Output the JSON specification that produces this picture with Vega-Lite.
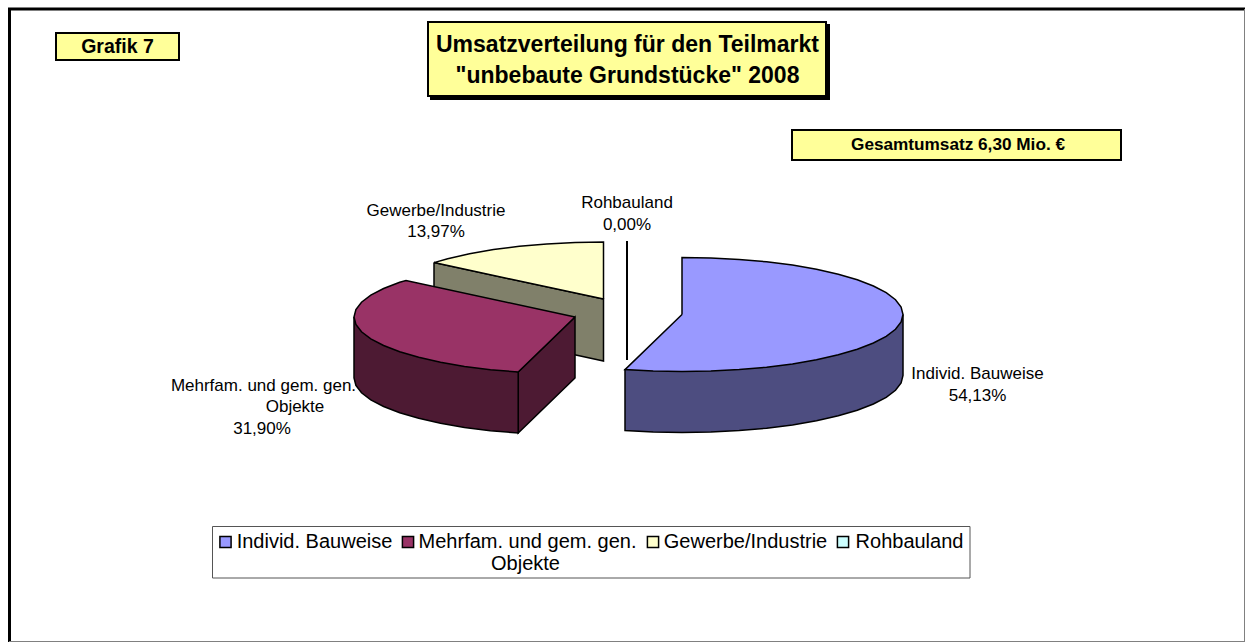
{"$schema":"https://vega.github.io/schema/vega-lite/v6.json","width":1245,"height":642,"padding":0,"autosize":"none","background":"white","config":{"view":{"stroke":null},"font":"Liberation Sans"},
"datasets":{
"boxes":[
{"name":"titleshadow","x":431,"x2":829,"y":25,"y2":99,"fillname":"Schatten"},
{"name":"title","x":428,"x2":826,"y":22,"y2":96,"fillname":"Box"},
{"name":"grafik","x":56,"x2":179,"y":33,"y2":60,"fillname":"Box"},
{"name":"gesamt","x":792,"x2":1121,"y":130,"y2":160,"fillname":"Box"},
{"name":"legend","x":212.5,"x2":970,"y":526.5,"y2":578,"fillname":"Weiss"}
],
"frame":[
{"side":"links","x":9.5,"x2":9.5,"y":8,"y2":642},
{"side":"oben","x":8,"x2":1245,"y":9,"y2":9}
],
"frame2":[
{"side":"unten","x":9,"x2":1245,"y":641.5,"y2":641.5},
{"side":"rechts","x":1244.5,"x2":1244.5,"y":9,"y2":642}
],
"zero":[{"name":"Rohbauland","x":627,"x2":627,"y":241,"y2":360}],
"shapes":[
{"part":"Gewerbe Seite","seq":1,"x":434,"y":262.6},{"part":"Gewerbe Seite","seq":2,"x":603.5,"y":299},{"part":"Gewerbe Seite","seq":3,"x":603.5,"y":361},{"part":"Gewerbe Seite","seq":4,"x":434,"y":324},{"part":"Gewerbe Seite","seq":5,"x":434,"y":262.6},
{"part":"Gewerbe/Industrie","seq":1,"x":603.5,"y":299},{"part":"Gewerbe/Industrie","seq":2,"x":434,"y":262.6},{"part":"Gewerbe/Industrie","seq":3,"x":447.7,"y":258.7},{"part":"Gewerbe/Industrie","seq":4,"x":469.5,"y":253.8},{"part":"Gewerbe/Industrie","seq":5,"x":493.5,"y":249.6},{"part":"Gewerbe/Industrie","seq":6,"x":519.4,"y":246.3},{"part":"Gewerbe/Industrie","seq":7,"x":546.8,"y":243.9},{"part":"Gewerbe/Industrie","seq":8,"x":575.2,"y":242.5},{"part":"Gewerbe/Industrie","seq":9,"x":603.5,"y":242},{"part":"Gewerbe/Industrie","seq":10,"x":603.5,"y":299},
{"part":"Mehrfam Innen","seq":1,"x":518.2,"y":372},{"part":"Mehrfam Innen","seq":2,"x":575,"y":317},{"part":"Mehrfam Innen","seq":3,"x":575,"y":378},{"part":"Mehrfam Innen","seq":4,"x":518.2,"y":433},{"part":"Mehrfam Innen","seq":5,"x":518.2,"y":372},
{"part":"Mehrfam Seite","seq":1,"x":354,"y":317},{"part":"Mehrfam Seite","seq":2,"x":354,"y":378},{"part":"Mehrfam Seite","seq":3,"x":355.9,"y":385.4},{"part":"Mehrfam Seite","seq":4,"x":361.5,"y":392.8},{"part":"Mehrfam Seite","seq":5,"x":370.8,"y":399.8},{"part":"Mehrfam Seite","seq":6,"x":383.6,"y":406.5},{"part":"Mehrfam Seite","seq":7,"x":399.7,"y":412.7},{"part":"Mehrfam Seite","seq":8,"x":418.7,"y":418.3},{"part":"Mehrfam Seite","seq":9,"x":440.5,"y":423.2},{"part":"Mehrfam Seite","seq":10,"x":464.5,"y":427.4},{"part":"Mehrfam Seite","seq":11,"x":490.4,"y":430.7},{"part":"Mehrfam Seite","seq":12,"x":518.2,"y":433},{"part":"Mehrfam Seite","seq":13,"x":518.2,"y":372},{"part":"Mehrfam Seite","seq":14,"x":354,"y":317},
{"part":"Mehrfam. und gem. gen. Objekte","seq":1,"x":575,"y":317},{"part":"Mehrfam. und gem. gen. Objekte","seq":2,"x":518.2,"y":372},{"part":"Mehrfam. und gem. gen. Objekte","seq":3,"x":490.4,"y":369.7},{"part":"Mehrfam. und gem. gen. Objekte","seq":4,"x":464.5,"y":366.4},{"part":"Mehrfam. und gem. gen. Objekte","seq":5,"x":440.5,"y":362.2},{"part":"Mehrfam. und gem. gen. Objekte","seq":6,"x":418.7,"y":357.3},{"part":"Mehrfam. und gem. gen. Objekte","seq":7,"x":399.7,"y":351.7},{"part":"Mehrfam. und gem. gen. Objekte","seq":8,"x":383.6,"y":345.5},{"part":"Mehrfam. und gem. gen. Objekte","seq":9,"x":370.8,"y":338.8},{"part":"Mehrfam. und gem. gen. Objekte","seq":10,"x":361.5,"y":331.8},{"part":"Mehrfam. und gem. gen. Objekte","seq":11,"x":355.9,"y":324.4},{"part":"Mehrfam. und gem. gen. Objekte","seq":12,"x":354,"y":317},{"part":"Mehrfam. und gem. gen. Objekte","seq":13,"x":355.9,"y":309.6},{"part":"Mehrfam. und gem. gen. Objekte","seq":14,"x":361.5,"y":302.2},{"part":"Mehrfam. und gem. gen. Objekte","seq":15,"x":370.8,"y":295.2},{"part":"Mehrfam. und gem. gen. Objekte","seq":16,"x":383.6,"y":288.5},{"part":"Mehrfam. und gem. gen. Objekte","seq":17,"x":399.7,"y":282.3},{"part":"Mehrfam. und gem. gen. Objekte","seq":18,"x":406,"y":280.6},{"part":"Mehrfam. und gem. gen. Objekte","seq":19,"x":575,"y":317},
{"part":"Individ Seite","seq":1,"x":903,"y":314.5},{"part":"Individ Seite","seq":2,"x":903,"y":375.5},{"part":"Individ Seite","seq":3,"x":901.1,"y":382.9},{"part":"Individ Seite","seq":4,"x":895.5,"y":390.3},{"part":"Individ Seite","seq":5,"x":886.2,"y":397.3},{"part":"Individ Seite","seq":6,"x":873.4,"y":404},{"part":"Individ Seite","seq":7,"x":857.3,"y":410.2},{"part":"Individ Seite","seq":8,"x":838.3,"y":415.8},{"part":"Individ Seite","seq":9,"x":816.5,"y":420.7},{"part":"Individ Seite","seq":10,"x":792.5,"y":424.9},{"part":"Individ Seite","seq":11,"x":766.6,"y":428.2},{"part":"Individ Seite","seq":12,"x":739.2,"y":430.6},{"part":"Individ Seite","seq":13,"x":710.8,"y":432},{"part":"Individ Seite","seq":14,"x":682,"y":432.5},{"part":"Individ Seite","seq":15,"x":653.2,"y":432},{"part":"Individ Seite","seq":16,"x":625,"y":430.6},{"part":"Individ Seite","seq":17,"x":625,"y":369.6},{"part":"Individ Seite","seq":18,"x":903,"y":314.5},
{"part":"Individ. Bauweise","seq":1,"x":682,"y":314.5},{"part":"Individ. Bauweise","seq":2,"x":682,"y":257.5},{"part":"Individ. Bauweise","seq":3,"x":710.8,"y":258},{"part":"Individ. Bauweise","seq":4,"x":739.2,"y":259.4},{"part":"Individ. Bauweise","seq":5,"x":766.6,"y":261.8},{"part":"Individ. Bauweise","seq":6,"x":792.5,"y":265.1},{"part":"Individ. Bauweise","seq":7,"x":816.5,"y":269.3},{"part":"Individ. Bauweise","seq":8,"x":838.3,"y":274.2},{"part":"Individ. Bauweise","seq":9,"x":857.3,"y":279.8},{"part":"Individ. Bauweise","seq":10,"x":873.4,"y":286},{"part":"Individ. Bauweise","seq":11,"x":886.2,"y":292.7},{"part":"Individ. Bauweise","seq":12,"x":895.5,"y":299.7},{"part":"Individ. Bauweise","seq":13,"x":901.1,"y":307.1},{"part":"Individ. Bauweise","seq":14,"x":903,"y":314.5},{"part":"Individ. Bauweise","seq":15,"x":901.1,"y":321.9},{"part":"Individ. Bauweise","seq":16,"x":895.5,"y":329.3},{"part":"Individ. Bauweise","seq":17,"x":886.2,"y":336.3},{"part":"Individ. Bauweise","seq":18,"x":873.4,"y":343},{"part":"Individ. Bauweise","seq":19,"x":857.3,"y":349.2},{"part":"Individ. Bauweise","seq":20,"x":838.3,"y":354.8},{"part":"Individ. Bauweise","seq":21,"x":816.5,"y":359.7},{"part":"Individ. Bauweise","seq":22,"x":792.5,"y":363.9},{"part":"Individ. Bauweise","seq":23,"x":766.6,"y":367.2},{"part":"Individ. Bauweise","seq":24,"x":739.2,"y":369.6},{"part":"Individ. Bauweise","seq":25,"x":710.8,"y":371},{"part":"Individ. Bauweise","seq":26,"x":682,"y":371.5},{"part":"Individ. Bauweise","seq":27,"x":653.2,"y":371},{"part":"Individ. Bauweise","seq":28,"x":625,"y":369.6},{"part":"Individ. Bauweise","seq":29,"x":682,"y":314.5}
],
"keys":[
{"name":"Individ. Bauweise","x":225.5,"y":542},
{"name":"Mehrfam. und gem. gen. Objekte","x":408,"y":542},
{"name":"Gewerbe/Industrie","x":653,"y":542},
{"name":"Rohbauland","x":843,"y":542}
],
"labels":[
{"role":"grafik","text":"Grafik 7","x":117.5,"y":47},
{"role":"title","text":"Umsatzverteilung für den Teilmarkt","x":627.5,"y":45},
{"role":"title","text":"\"unbebaute Grundstücke\" 2008","x":627.5,"y":76},
{"role":"gesamt","text":"Gesamtumsatz 6,30 Mio. €","x":958,"y":145},
{"role":"slice","text":"Gewerbe/Industrie","x":436,"y":211},
{"role":"slice","text":"13,97%","x":436,"y":232},
{"role":"slice","text":"Rohbauland","x":627,"y":203},
{"role":"slice","text":"0,00%","x":627,"y":225},
{"role":"slice","text":"Individ. Bauweise","x":977.5,"y":374},
{"role":"slice","text":"54,13%","x":977.5,"y":396},
{"role":"slice","text":"Mehrfam. und gem. gen.","x":263.5,"y":386},
{"role":"slice","text":"Objekte","x":295,"y":407},
{"role":"slice","text":"31,90%","x":262,"y":429},
{"role":"legend","text":"Individ. Bauweise","x":314.5,"y":542},
{"role":"legend","text":"Mehrfam. und gem. gen.","x":527.5,"y":542},
{"role":"legend","text":"Objekte","x":525.5,"y":564},
{"role":"legend","text":"Gewerbe/Industrie","x":745.5,"y":542},
{"role":"legend","text":"Rohbauland","x":909.5,"y":542}
]},
"encoding":{
"x":{"field":"x","type":"quantitative","axis":null,"scale":{"domain":[0,1245],"nice":false,"zero":false}},
"y":{"field":"y","type":"quantitative","axis":null,"scale":{"domain":[0,642],"reverse":true,"nice":false,"zero":false}}
},
"layer":[
{"data":{"name":"frame"},"mark":{"type":"rule","stroke":"#000000","strokeWidth":3},"encoding":{"x2":{"field":"x2"},"y2":{"field":"y2"}}},
{"data":{"name":"frame2"},"mark":{"type":"rule","stroke":"#808080","strokeWidth":1},"encoding":{"x2":{"field":"x2"},"y2":{"field":"y2"}}},
{"data":{"name":"boxes"},"mark":{"type":"rect","stroke":"#000000","strokeWidth":2},"encoding":{"x2":{"field":"x2"},"y2":{"field":"y2"},"fill":{"field":"fillname","type":"nominal","legend":null,"scale":{"domain":["Schatten","Box","Weiss"],"range":["#000000","#FFFF99","#FFFFFF"]}},"strokeWidth":{"condition":{"test":"datum.name==='legend'","value":1},"value":2},"stroke":{"condition":{"test":"datum.name==='legend'","value":"#555555"},"value":"#000000"}}},
{"data":{"name":"shapes"},"mark":{"type":"line","stroke":"#000000","strokeWidth":1.5,"strokeJoin":"miter","interpolate":"linear"},"encoding":{"order":{"field":"seq","type":"quantitative"},"fill":{"field":"part","type":"nominal","legend":null,"sort":null,"scale":{"domain":["Gewerbe Seite","Gewerbe/Industrie","Mehrfam Innen","Mehrfam Seite","Mehrfam. und gem. gen. Objekte","Individ Seite","Individ. Bauweise"],"range":["#80806A","#FFFFCC","#4D1A33","#4D1A33","#993366","#4D4D80","#9999FF"]}}}},
{"data":{"name":"zero"},"mark":{"type":"rule","stroke":"#000000","strokeWidth":2},"encoding":{"x2":{"field":"x2"},"y2":{"field":"y2"}}},
{"data":{"name":"keys"},"mark":{"type":"point","shape":"square","size":125,"filled":true,"stroke":"#000000","strokeWidth":1.5,"opacity":1},"encoding":{"fill":{"field":"name","type":"nominal","legend":null,"scale":{"domain":["Individ. Bauweise","Mehrfam. und gem. gen. Objekte","Gewerbe/Industrie","Rohbauland"],"range":["#9999FF","#993366","#FFFFCC","#CCFFFF"]}}}},
{"data":{"name":"labels"},"transform":[{"filter":"datum.role==='grafik'"}],"mark":{"type":"text","font":"Liberation Sans","fontWeight":"bold","fontSize":19.5,"baseline":"middle","align":"center","fill":"#000000"},"encoding":{"text":{"field":"text"}}},
{"data":{"name":"labels"},"transform":[{"filter":"datum.role==='title'"}],"mark":{"type":"text","font":"Liberation Sans","fontWeight":"bold","fontSize":23,"baseline":"middle","align":"center","fill":"#000000"},"encoding":{"text":{"field":"text"}}},
{"data":{"name":"labels"},"transform":[{"filter":"datum.role==='gesamt'"}],"mark":{"type":"text","font":"Liberation Sans","fontWeight":"bold","fontSize":17.2,"baseline":"middle","align":"center","fill":"#000000"},"encoding":{"text":{"field":"text"}}},
{"data":{"name":"labels"},"transform":[{"filter":"datum.role==='slice'"}],"mark":{"type":"text","font":"Liberation Sans","fontSize":17,"baseline":"middle","align":"center","fill":"#000000"},"encoding":{"text":{"field":"text"}}},
{"data":{"name":"labels"},"transform":[{"filter":"datum.role==='legend'"}],"mark":{"type":"text","font":"Liberation Sans","fontSize":20,"baseline":"middle","align":"center","fill":"#000000"},"encoding":{"text":{"field":"text"}}}
],
"resolve":{"scale":{"fill":"independent"}}}
